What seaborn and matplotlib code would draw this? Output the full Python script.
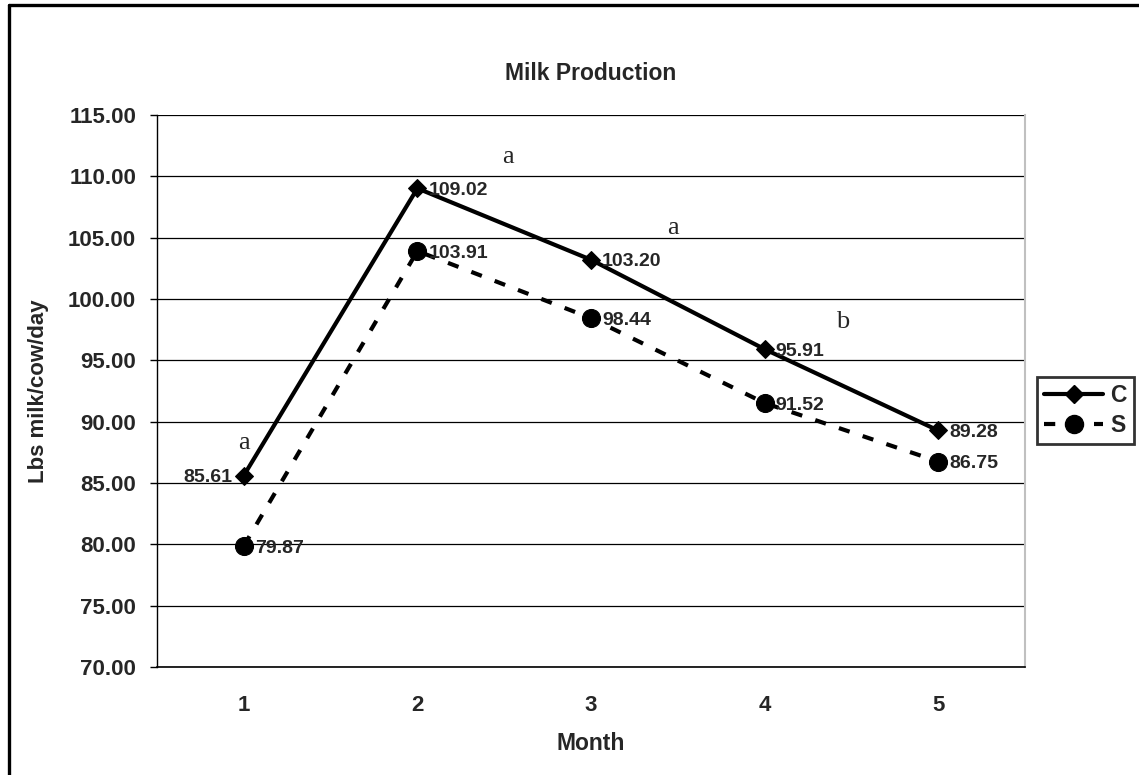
import pandas as pd
import seaborn as sns
from matplotlib import pyplot as plt
from matplotlib.lines import Line2D

# data
months = [1, 2, 3, 4, 5]
c_values = [85.61, 109.02, 103.20, 95.91, 89.28]
s_values = [79.87, 103.91, 98.44, 91.52, 86.75]
# significance letters: (x, y, letter)
letter_x = [2.52, 3.47, 4.45, 1.0]
letter_y = [111.6, 105.8, 98.1, 88.3]
letter_txt = ['a', 'a', 'b', 'a']
# label offsets (points) for the C series; S labels all go right
c_label_dx = [-8, 8, 8, 8, 8]

df = pd.DataFrame({'Month': months * 2,
                   'value': c_values + s_values,
                   'series': ['C'] * 5 + ['S'] * 5})

sns.set_style('white')
plt.rcParams['font.family'] = ['Liberation Sans', 'DejaVu Sans']

fig = plt.figure(figsize=(11.39, 7.75), dpi=100)
ax = fig.add_axes([157 / 1139, 1 - 667 / 775, (1025 - 157) / 1139, (667 - 115) / 775])

sns.lineplot(data=df[df.series == 'C'], x='Month', y='value', color='black',
             marker='D', markersize=9, markeredgecolor='black', linewidth=3,
             ax=ax, legend=False)
sns.lineplot(data=df[df.series == 'S'], x='Month', y='value', color='black',
             marker='o', markersize=13, markeredgecolor='black', linewidth=3,
             linestyle=(0, (2.7, 3.3)), ax=ax, legend=False)

# data labels
for m, v, dx in zip(months, c_values, c_label_dx):
    ax.annotate(f'{v:.2f}', (m, v), xytext=(dx, -1.5), textcoords='offset points',
                ha='left' if dx > 0 else 'right', va='center',
                fontsize=14, fontweight='bold')
for m, v in zip(months, s_values):
    ax.annotate(f'{v:.2f}', (m, v), xytext=(8, -1.5), textcoords='offset points',
                ha='left', va='center', fontsize=14, fontweight='bold')

for x, y, t in zip(letter_x, letter_y, letter_txt):
    ax.text(x, y, t, ha='center', va='center', fontsize=19,
            family=['Liberation Serif', 'DejaVu Serif'])

ax.set_xlim(0.5, 5.5)
ax.set_ylim(70, 115)
ax.set_yticks(range(70, 116, 5))
ax.set_yticklabels([f'{v:.2f}' for v in range(70, 116, 5)])
ax.set_xticks(months)
ax.set_xticks([m + 0.5 for m in [0] + months], minor=True)
ax.tick_params(axis='x', which='major', length=0, pad=20, labelsize=16)
ax.tick_params(axis='x', which='minor', length=5, width=1, color='black', direction='out')
ax.tick_params(axis='y', length=5, width=1, color='black', direction='out', pad=10,
               labelsize=16, left=True)
for lab in ax.get_xticklabels() + ax.get_yticklabels():
    lab.set_fontweight('bold')

ax.yaxis.grid(True, color='black', linewidth=0.9)
ax.set_axisbelow(True)
ax.spines['left'].set_color('black')
ax.spines['bottom'].set_color('black')
ax.spines['left'].set_linewidth(1)
ax.spines['bottom'].set_linewidth(1.2)
ax.spines['top'].set_visible(False)
ax.spines['right'].set_color('#c0c0c0')
ax.spines['right'].set_linewidth(1.5)

ax.set_title('Milk Production', fontsize=16.5, fontweight='bold', pad=25)
ax.set_xlabel('Month', fontsize=16.5, fontweight='bold', labelpad=12)
ax.set_ylabel('Lbs milk/cow/day', fontsize=16, fontweight='bold', labelpad=14)

handles = [Line2D([], [], color='black', lw=3, marker='D', markersize=9),
           Line2D([], [], color='black', lw=3, ls=(0, (2.7, 3.3)), marker='o', markersize=13)]
leg = fig.legend(handles, ['C', 'S'], loc='upper left', bbox_to_anchor=(1037 / 1139, 1 - 377 / 775),
                 borderaxespad=0, frameon=True, fancybox=False, handlelength=2.6,
                 handletextpad=0.3, borderpad=0.3, labelspacing=0.3,
                 prop={'size': 16.5, 'weight': 'bold'})
leg.get_frame().set_edgecolor('black')
leg.get_frame().set_linewidth(2)

# outer chart border (only top and left fall inside the image)
fig.add_artist(Line2D([8.5 / 1139, 8.5 / 1139], [0, 1 - 5 / 775], color='black', lw=2.4))
fig.add_artist(Line2D([8.5 / 1139, 1], [1 - 5 / 775, 1 - 5 / 775], color='black', lw=2.4))

fig.savefig('out.png', dpi=100, facecolor='white')
